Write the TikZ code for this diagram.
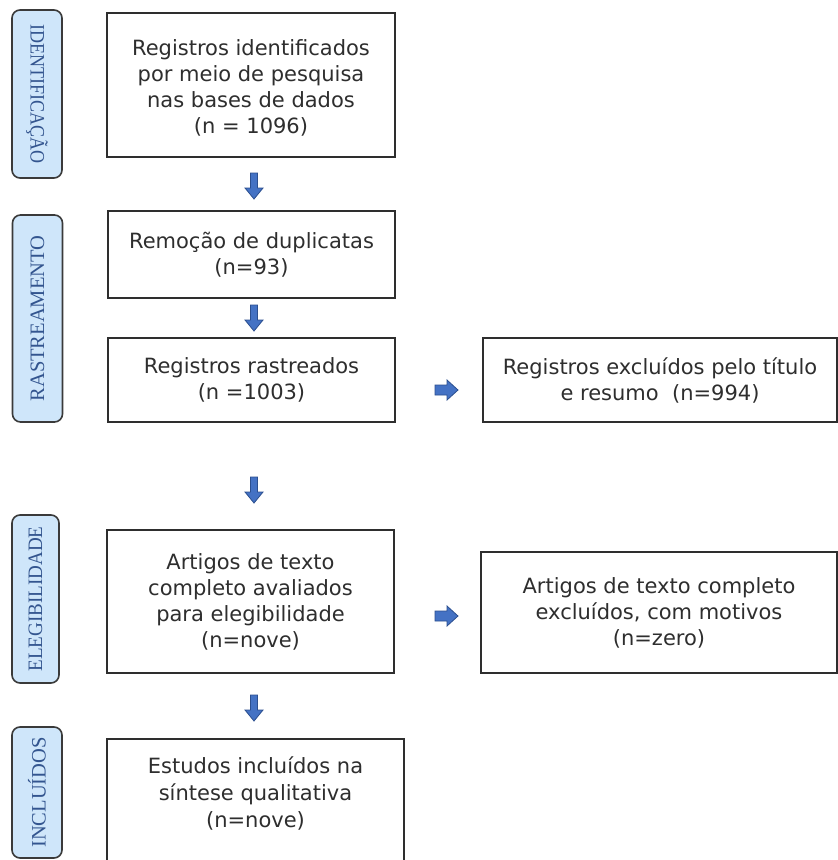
\documentclass[tikz,border=0pt]{standalone}
\usepackage{fontspec}
\setmainfont{DejaVu Sans}
\newfontfamily\labelfont{Liberation Serif}
\definecolor{boxtext}{HTML}{2E2E2E}
\definecolor{boxline}{HTML}{2E2E2E}
\definecolor{lblfill}{HTML}{CFE6FA}
\definecolor{lblline}{HTML}{3A3A3A}
\definecolor{lbltext}{HTML}{33558F}
\definecolor{arrfill}{HTML}{4472C4}
\definecolor{arrline}{HTML}{2B4F8F}
\tikzset{
  stepbox/.style={draw=boxline, line width=1.8pt, fill=white, text=boxtext,
    align=center, inner sep=0pt, font=\fontsize{21}{26}\selectfont},
  plaintext/.style={text=boxtext, align=center, inner sep=0pt,
    font=\fontsize{21}{27}\selectfont},
  phaselbl/.style={draw=lblline, line width=1.6pt, fill=lblfill, rounded corners=8pt,
    text=lbltext, inner sep=0pt, minimum height=50pt,
    font=\labelfont\fontsize{20.5}{22}\selectfont},
  downarr/.pic={\filldraw[fill=arrfill, draw=arrline, line width=0.8pt]
    (-3.5,0) -- (3.5,0) -- (3.5,15) -- (9,15) -- (0,26) -- (-9,15) -- (-3.5,15) -- cycle;},
  rightarr/.pic={\filldraw[fill=arrfill, draw=arrline, line width=0.8pt]
    (0,-5) -- (12,-5) -- (12,-10) -- (23,0) -- (12,10) -- (12,5) -- (0,5) -- cycle;},
}
\begin{document}
\begin{tikzpicture}[x=1pt,y=-1pt]
\path[use as bounding box, clip] (0,0) rectangle (838,860);
\fill[white] (0,0) rectangle (838,860);

% phase labels
\node[phaselbl, rotate=-90, minimum width=168pt] (l1) at (37,94)
  {\scalebox{0.88}[1]{IDENTIFICAÇÃO}};
\node[phaselbl, rotate=90, minimum width=207pt] (l2) at (37.5,318.5) {RASTREAMENTO};
\node[phaselbl, rotate=90, minimum width=168pt, minimum height=47pt] (l3) at (35.5,599)
  {\scalebox{0.93}[1]{ELEGIBILIDADE}};
\node[phaselbl, rotate=90, minimum width=131pt] (l4) at (37,792.5) {INCLUÍDOS};

% main boxes
\node[stepbox, minimum width=288pt, minimum height=144pt] (b1) at (251,85)
  {\raisebox{-4pt}[\height][\depth]{\begin{tabular}{@{}c@{}}Registros identificados\\por meio de pesquisa\\nas bases de dados\\(n = 1096)\end{tabular}}};
\node[stepbox, minimum width=287pt, minimum height=87pt] (b2) at (251.5,254.5)
  {Remoção de duplicatas\\(n=93)};
\node[stepbox, minimum width=287pt, minimum height=84pt] (b3) at (251.5,380)
  {Registros rastreados\\(n =1003)};
\node[stepbox, minimum width=354pt, minimum height=84pt] (b4) at (660,380)
  {Registros excluídos pelo título\\e resumo\ \ (n=994)};
\node[stepbox, minimum width=287pt, minimum height=143pt] (b5) at (250.5,601.5)
  {Artigos de texto\\completo avaliados\\para elegibilidade\\(n=nove)};
\node[stepbox, minimum width=356pt, minimum height=121pt] (b6) at (659,612.5)
  {Artigos de texto completo\\excluídos, com motivos\\(n=zero)};
\node[stepbox, minimum width=297pt, minimum height=150pt, anchor=north] (b7) at (255.5,738) {};
\node[plaintext] (b7t) at (255.5,793)
  {Estudos incluídos na\\síntese qualitativa\\(n=nove)};

% block arrows
\pic at (254,173) {downarr};
\pic at (254,305) {downarr};
\pic at (254,477) {downarr};
\pic at (254,695) {downarr};
\pic at (435,390) {rightarr};
\pic at (435,616) {rightarr};
\end{tikzpicture}
\end{document}
